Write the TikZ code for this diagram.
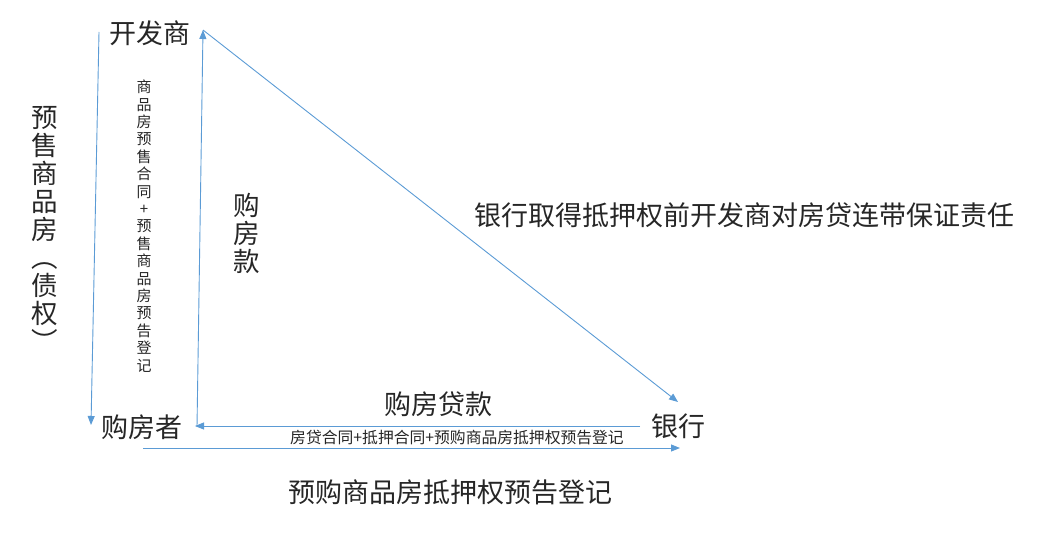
\documentclass[tikz,border=0pt]{standalone}
\usepackage{fontspec}
\setmainfont{Noto Sans CJK SC}
\usetikzlibrary{arrows.meta}
\definecolor{arr}{HTML}{5B9BD5}
\tikzset{
  conn/.style={draw=arr, line width=0.9pt, -{Triangle[length=9pt,width=7pt]}},
  big/.style={font=\fontsize{27}{28}\selectfont, inner sep=0pt, text=black!85},
  small/.style={font=\fontsize{15.8}{17.4}\selectfont, inner sep=0pt, text=black!85},
  vbig/.style={font=\fontsize{26.5}{28}\selectfont, inner sep=0pt, text=black!85, align=center},
  vsmall/.style={font=\fontsize{15}{17.4}\selectfont, inner sep=0pt, text=black!85, align=center},
}
\begin{document}
\begin{tikzpicture}[x=1pt,y=-1pt]
\useasboundingbox (0,0) rectangle (1046,553);
% main nodes
\node[big] (dev) at (150,33) {开发商};
\node[big] (buyer) at (142,427) {购房者};
\node[big] (bank) at (678,426) {银行};
% anchor coordinates for connectors
\coordinate (devL) at (99,32);
\coordinate (buyL) at (91,425);
\coordinate (buyR) at (197,427);
\coordinate (devR) at (203,30);
\coordinate (bankT) at (678,402);
\coordinate (bankL) at (640,426);
\coordinate (buyRarr) at (195,426);
\coordinate (buyB) at (143,448);
\coordinate (bankB) at (680,448);
% connectors
\draw[conn] (devL) -- (buyL);
\draw[conn] (buyR) -- (devR);
\draw[conn] (devR) -- (bankT);
\draw[conn] (bankL) -- (buyRarr);
\draw[conn] (buyB) -- (bankB);
% labels
\node[vbig] (l1) at (45,229) {预\\售\\商\\品\\房\\︵\\债\\权\\︶};
\node[vsmall] (l2) at (144,226) {商\\品\\房\\预\\售\\合\\同\\+\\预\\售\\商\\品\\房\\预\\告\\登\\记};
\node[vbig] (l3) at (247,233) {购\\房\\款};
\node[big] (l4) at (744,215) {银行取得抵押权前开发商对房贷连带保证责任};
\node[big] (l5) at (438,404) {购房贷款};
\node[small] (l6) at (457,438) {房贷合同+抵押合同+预购商品房抵押权预告登记};
\node[big] (l7) at (450,492) {预购商品房抵押权预告登记};
\end{tikzpicture}
\end{document}
